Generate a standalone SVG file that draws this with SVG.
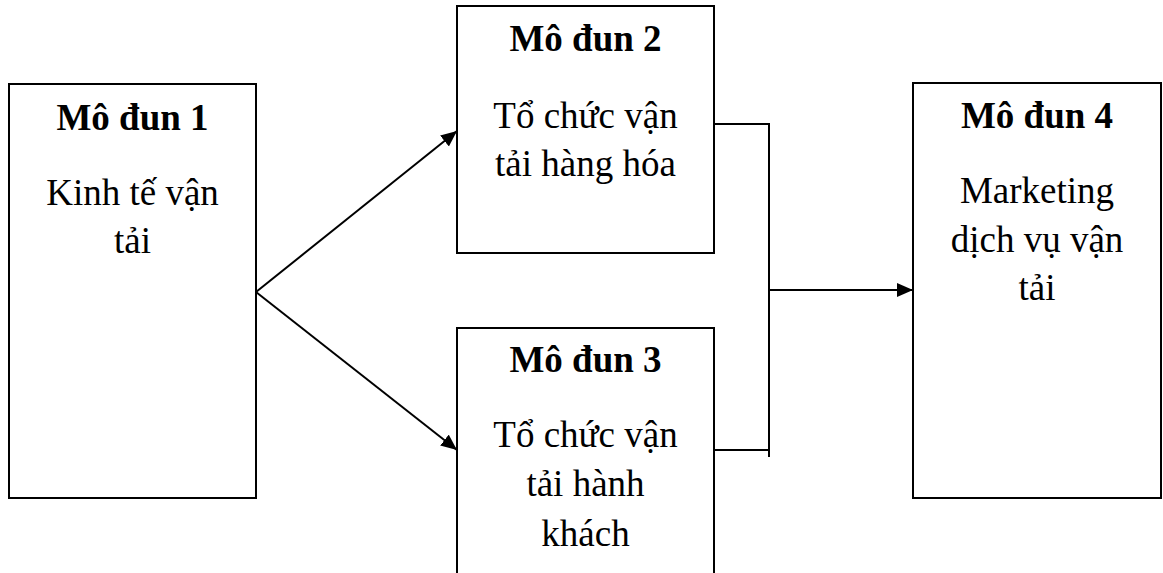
<svg xmlns="http://www.w3.org/2000/svg" width="1163" height="573" viewBox="0 0 1163 573">
<style>
.box{fill:#fff;stroke:#000;stroke-width:2}
.t{font-family:"Liberation Serif","Times New Roman",serif;font-size:37px;text-anchor:middle;fill:#000}
.b{font-weight:bold}
.c{fill:none;stroke:#000;stroke-width:2}
</style>
<defs>
<marker id="ah" markerUnits="userSpaceOnUse" markerWidth="18" markerHeight="16" refX="16" refY="7" orient="auto">
<path d="M0,0 L16,7 L0,14 Z" fill="#000"/>
</marker>
</defs>
<rect width="1163" height="573" fill="#fff"/>
<g id="node1">
<rect class="box" x="9" y="84" width="247" height="414"/>
<text class="t b" x="132.5" y="130">Mô đun 1</text>
<text class="t" x="132.5" y="205">Kinh tế vận</text>
<text class="t" x="132.5" y="253">tải</text>
</g>
<g id="node2">
<rect class="box" x="457" y="6" width="257" height="247"/>
<text class="t b" x="585.5" y="51">Mô đun 2</text>
<text class="t" x="585.5" y="128">Tổ chức vận</text>
<text class="t" x="585.5" y="176">tải hàng hóa</text>
</g>
<g id="node3">
<rect class="box" x="457" y="328" width="257" height="270"/>
<text class="t b" x="585.5" y="372">Mô đun 3</text>
<text class="t" x="585.5" y="447">Tổ chức vận</text>
<text class="t" x="585.5" y="496">tải hành</text>
<text class="t" x="585.5" y="546">khách</text>
</g>
<g id="node4">
<rect class="box" x="913" y="83" width="248" height="415"/>
<text class="t b" x="1037" y="128">Mô đun 4</text>
<text class="t" x="1037" y="203">Marketing</text>
<text class="t" x="1037" y="252">dịch vụ vận</text>
<text class="t" x="1037" y="300">tải</text>
</g>
<g id="connectors">
<line class="c" x1="256" y1="292" x2="457" y2="131" marker-end="url(#ah)"/>
<line class="c" x1="256" y1="292" x2="457" y2="450" marker-end="url(#ah)"/>
<polyline class="c" points="714,124 769,124 769,457"/>
<line class="c" x1="714" y1="450" x2="769" y2="450"/>
<line class="c" x1="769" y1="290" x2="913" y2="290" marker-end="url(#ah)"/>
</g>
</svg>
